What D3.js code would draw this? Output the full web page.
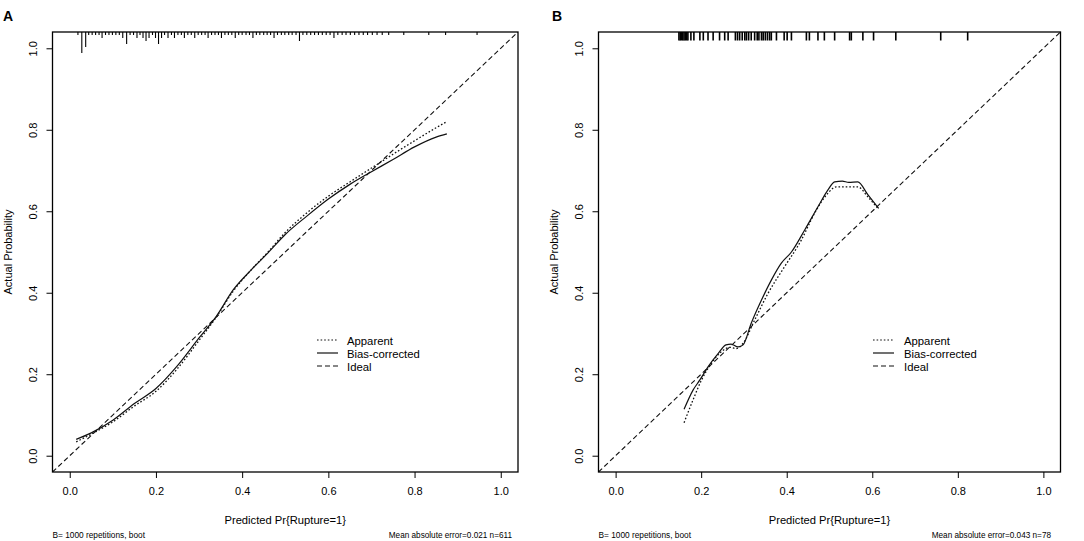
<!DOCTYPE html>
<html>
<head>
<meta charset="utf-8">
<script src="https://cdn.jsdelivr.net/npm/d3@7/dist/d3.min.js"></script>
<style>
  html, body { margin: 0; padding: 0; background: #fff; }
  svg { display: block; }
  text { font-family: "Liberation Sans", Arial, sans-serif; fill: #000; }
</style>
</head>
<body>
<div class="calibration-charts"></div>
<script>
// ---------------------------------------------------------------------------
// Data

const xTicks = [0, 0.2, 0.4, 0.6, 0.8, 1.0];
const yTicks = [0, 0.2, 0.4, 0.6, 0.8, 1.0];

// Panel A: n = 611
const apparentA = [
  [0.015, 0.034], [0.05, 0.053], [0.10, 0.083], [0.15, 0.122], [0.20, 0.158],
  [0.25, 0.214], [0.30, 0.283], [0.34, 0.340], [0.38, 0.405], [0.42, 0.455],
  [0.46, 0.500], [0.50, 0.548], [0.55, 0.596], [0.60, 0.637], [0.65, 0.672],
  [0.70, 0.706], [0.75, 0.740], [0.80, 0.773], [0.85, 0.805], [0.875, 0.820]
];
const biasCorrectedA = [
  [0.015, 0.040], [0.05, 0.056], [0.10, 0.087], [0.15, 0.128], [0.20, 0.165],
  [0.25, 0.221], [0.30, 0.289], [0.34, 0.342], [0.38, 0.408], [0.42, 0.455],
  [0.46, 0.498], [0.50, 0.543], [0.55, 0.588], [0.60, 0.630], [0.65, 0.666],
  [0.70, 0.697], [0.75, 0.727], [0.80, 0.758], [0.85, 0.782], [0.875, 0.790]
];
const rugValuesA = [
  0.019, 0.028, 0.037, 0.044, 0.052, 0.060, 0.068, 0.075, 0.083, 0.091,
  0.099, 0.107, 0.115, 0.123, 0.132, 0.140, 0.148, 0.156, 0.163, 0.170,
  0.177, 0.184, 0.192, 0.199, 0.206, 0.213, 0.220, 0.228, 0.236, 0.243,
  0.251, 0.259, 0.266, 0.274, 0.282, 0.290, 0.298, 0.306, 0.314, 0.321,
  0.329, 0.337, 0.345, 0.352, 0.360, 0.368, 0.376, 0.384, 0.392, 0.400,
  0.409, 0.417, 0.425, 0.433, 0.441, 0.450, 0.458, 0.466, 0.474, 0.482,
  0.491, 0.499, 0.508, 0.516, 0.525, 0.533, 0.541, 0.550, 0.559, 0.568,
  0.577, 0.586, 0.595, 0.604, 0.613, 0.622, 0.632, 0.641, 0.651, 0.661,
  0.671, 0.681, 0.691, 0.702, 0.713, 0.725, 0.740, 0.775, 0.833, 0.872, 0.945
];
const rugCountsA = [
  1, 7, 5, 1, 1, 1, 1, 2, 1, 1,
  1, 1, 1, 2, 4, 1, 1, 2, 1, 2,
  3, 2, 1, 2, 4, 2, 1, 2, 1, 2,
  1, 1, 2, 1, 1, 2, 1, 1, 1, 2,
  1, 1, 1, 2, 1, 1, 1, 2, 1, 1,
  1, 1, 2, 1, 1, 1, 1, 1, 2, 1,
  1, 1, 1, 1, 1, 3, 1, 1, 1, 1,
  1, 1, 1, 1, 2, 1, 1, 1, 1, 1,
  1, 1, 1, 1, 1, 1, 1, 1, 1, 1, 1
];

// Panel B: n = 78
const apparentB = [
  [0.160, 0.081], [0.181, 0.137], [0.201, 0.186], [0.224, 0.227], [0.247, 0.255],
  [0.267, 0.266], [0.282, 0.263], [0.298, 0.276], [0.325, 0.333], [0.356, 0.398],
  [0.395, 0.464], [0.434, 0.529], [0.465, 0.595], [0.496, 0.644], [0.516, 0.660],
  [0.566, 0.660], [0.590, 0.635], [0.613, 0.607]
];
const biasCorrectedB = [
  [0.160, 0.114], [0.181, 0.161], [0.197, 0.186], [0.216, 0.218], [0.240, 0.251],
  [0.258, 0.272], [0.270, 0.274], [0.286, 0.267], [0.298, 0.272], [0.317, 0.325],
  [0.341, 0.382], [0.364, 0.431], [0.387, 0.472], [0.411, 0.500], [0.442, 0.554],
  [0.473, 0.611], [0.496, 0.652], [0.512, 0.672], [0.530, 0.674], [0.545, 0.671],
  [0.566, 0.672], [0.590, 0.640], [0.615, 0.607]
];
const rugValuesB = [
  0.148, 0.151, 0.154, 0.157, 0.160, 0.163, 0.166, 0.169, 0.176, 0.183,
  0.197, 0.205, 0.216, 0.228, 0.243, 0.255, 0.263, 0.280, 0.285, 0.290,
  0.296, 0.302, 0.306, 0.311, 0.317, 0.325, 0.331, 0.335, 0.341, 0.345,
  0.350, 0.355, 0.360, 0.364, 0.376, 0.394, 0.401, 0.411, 0.446, 0.453,
  0.473, 0.488, 0.512, 0.547, 0.551, 0.578, 0.603, 0.655, 0.760, 0.823
];

const legendLabels = ['Apparent', 'Bias-corrected', 'Ideal'];

// ---------------------------------------------------------------------------
// Layout

const width = 1084;
const height = 541;
const dash = { Apparent: '1.6,2', 'Bias-corrected': null, Ideal: '5,3' };

const panels = [
  {
    letter: 'A', letterX: 3, left: 52.5, right: 518, top: 32, bottom: 472,
    apparent: apparentA, biasCorrected: biasCorrectedA,
    rug: rugValuesA.map((v, i) => ({ value: v, count: rugCountsA[i] })),
    rugUnit: 3, rugWidth: 1.1,
    legendX: 264.5, legendTextX: 294.5,
    sub: 'Mean absolute error=0.021 n=611', subRight: 512
  },
  {
    letter: 'B', letterX: 552, left: 598.5, right: 1060.5, top: 32, bottom: 472,
    apparent: apparentB, biasCorrected: biasCorrectedB,
    rug: rugValuesB.map(v => ({ value: v, count: 1 })),
    rugUnit: 8.5, rugWidth: 1.6,
    legendX: 274.5, legendTextX: 305.5,
    sub: 'Mean absolute error=0.043 n=78', subRight: 1051
  }
];

const svg = d3.select('.calibration-charts')
  .append('svg')
  .attr('width', width)
  .attr('height', height);

panels.forEach((p, idx) => drawPanel(p, idx));

function drawPanel(p, idx) {
  const x = d3.scaleLinear().domain([-0.04, 1.04]).range([p.left, p.right]);
  const y = d3.scaleLinear().domain([-0.04, 1.04]).range([p.bottom, p.top]);
  const g = svg.append('g').attr('class', `panel-${p.letter}`);

  g.append('clipPath').attr('id', `clip-${idx}`)
    .append('rect')
    .attr('x', p.left).attr('y', p.top)
    .attr('width', p.right - p.left).attr('height', p.bottom - p.top);

  // panel letter
  g.append('text')
    .attr('x', p.letterX).attr('y', 21)
    .style('font-size', '14px').style('font-weight', 'bold')
    .text(p.letter);

  // axes
  const xAxis = d3.axisBottom(x).tickValues(xTicks).tickSize(6).tickFormat(d3.format('.1f'));
  const gx = g.append('g').attr('transform', `translate(0,${p.bottom})`).call(xAxis);
  gx.select('.domain').remove();
  gx.selectAll('line').attr('stroke', '#000').attr('stroke-width', 1);
  gx.selectAll('text').attr('y', 15).style('font-size', '11px')
    .style('font-family', '"Liberation Sans", Arial, sans-serif').attr('fill', '#000');

  const yAxis = d3.axisLeft(y).tickValues(yTicks).tickSize(6).tickFormat(d3.format('.1f'));
  const gy = g.append('g').attr('transform', `translate(${p.left},0)`).call(yAxis);
  gy.select('.domain').remove();
  gy.selectAll('line').attr('stroke', '#000').attr('stroke-width', 1);
  gy.selectAll('text')
    .attr('x', null).attr('dy', null)
    .attr('text-anchor', 'middle')
    .attr('transform', 'translate(-15.5,0) rotate(-90)')
    .style('font-size', '11px')
    .style('font-family', '"Liberation Sans", Arial, sans-serif').attr('fill', '#000');

  // axis titles
  g.append('text')
    .attr('x', (p.left + p.right) / 2).attr('y', p.bottom + 52)
    .attr('text-anchor', 'middle').style('font-size', '11.2px')
    .text('Predicted Pr{Rupture=1}');
  g.append('text')
    .attr('transform', `translate(${p.left - 41},${(p.top + p.bottom) / 2}) rotate(-90)`)
    .attr('text-anchor', 'middle').style('font-size', '11px')
    .text('Actual Probability');

  // subtitles
  g.append('text')
    .attr('x', p.left).attr('y', 538)
    .style('font-size', '8.3px')
    .text('B= 1000 repetitions, boot');
  g.append('text')
    .attr('x', p.subRight).attr('y', 538)
    .attr('text-anchor', 'end').style('font-size', '8.2px')
    .text(p.sub);

  const plot = g.append('g').attr('clip-path', `url(#clip-${idx})`);

  // ideal line
  plot.append('line')
    .attr('x1', x(-0.04)).attr('y1', y(-0.04))
    .attr('x2', x(1.04)).attr('y2', y(1.04))
    .attr('stroke', '#111').attr('stroke-width', 1.1)
    .attr('stroke-dasharray', dash.Ideal);

  const line = d3.line().x(d => x(d[0])).y(d => y(d[1])).curve(d3.curveMonotoneX);

  plot.append('path').datum(p.apparent)
    .attr('d', line).attr('fill', 'none')
    .attr('stroke', '#111').attr('stroke-width', 1.3)
    .attr('stroke-dasharray', dash.Apparent);
  plot.append('path').datum(p.biasCorrected)
    .attr('d', line).attr('fill', 'none')
    .attr('stroke', '#111').attr('stroke-width', 1.2);

  // rug of predicted values along top
  plot.selectAll('.rug').data(p.rug).enter()
    .append('line')
    .attr('class', 'rug')
    .attr('x1', d => x(d.value)).attr('x2', d => x(d.value))
    .attr('y1', p.top).attr('y2', d => p.top + d.count * p.rugUnit)
    .attr('stroke', '#000').attr('stroke-width', p.rugWidth);

  // box
  g.append('rect')
    .attr('x', p.left).attr('y', p.top)
    .attr('width', p.right - p.left).attr('height', p.bottom - p.top)
    .attr('fill', 'none').attr('stroke', '#000').attr('stroke-width', 1.3);

  // legend
  const legend = g.append('g')
    .attr('transform', `translate(${p.left},${p.top + 308})`);
  legendLabels.forEach((label, i) => {
    legend.append('line')
      .attr('x1', p.legendX).attr('x2', p.legendX + 21)
      .attr('y1', i * 13).attr('y2', i * 13)
      .attr('stroke', '#111').attr('stroke-width', 1.2)
      .attr('stroke-dasharray', dash[label]);
    legend.append('text')
      .attr('x', p.legendTextX).attr('y', i * 13 + 4.5)
      .style('font-size', '11.3px')
      .text(label);
  });
}
</script>
</body>
</html>
